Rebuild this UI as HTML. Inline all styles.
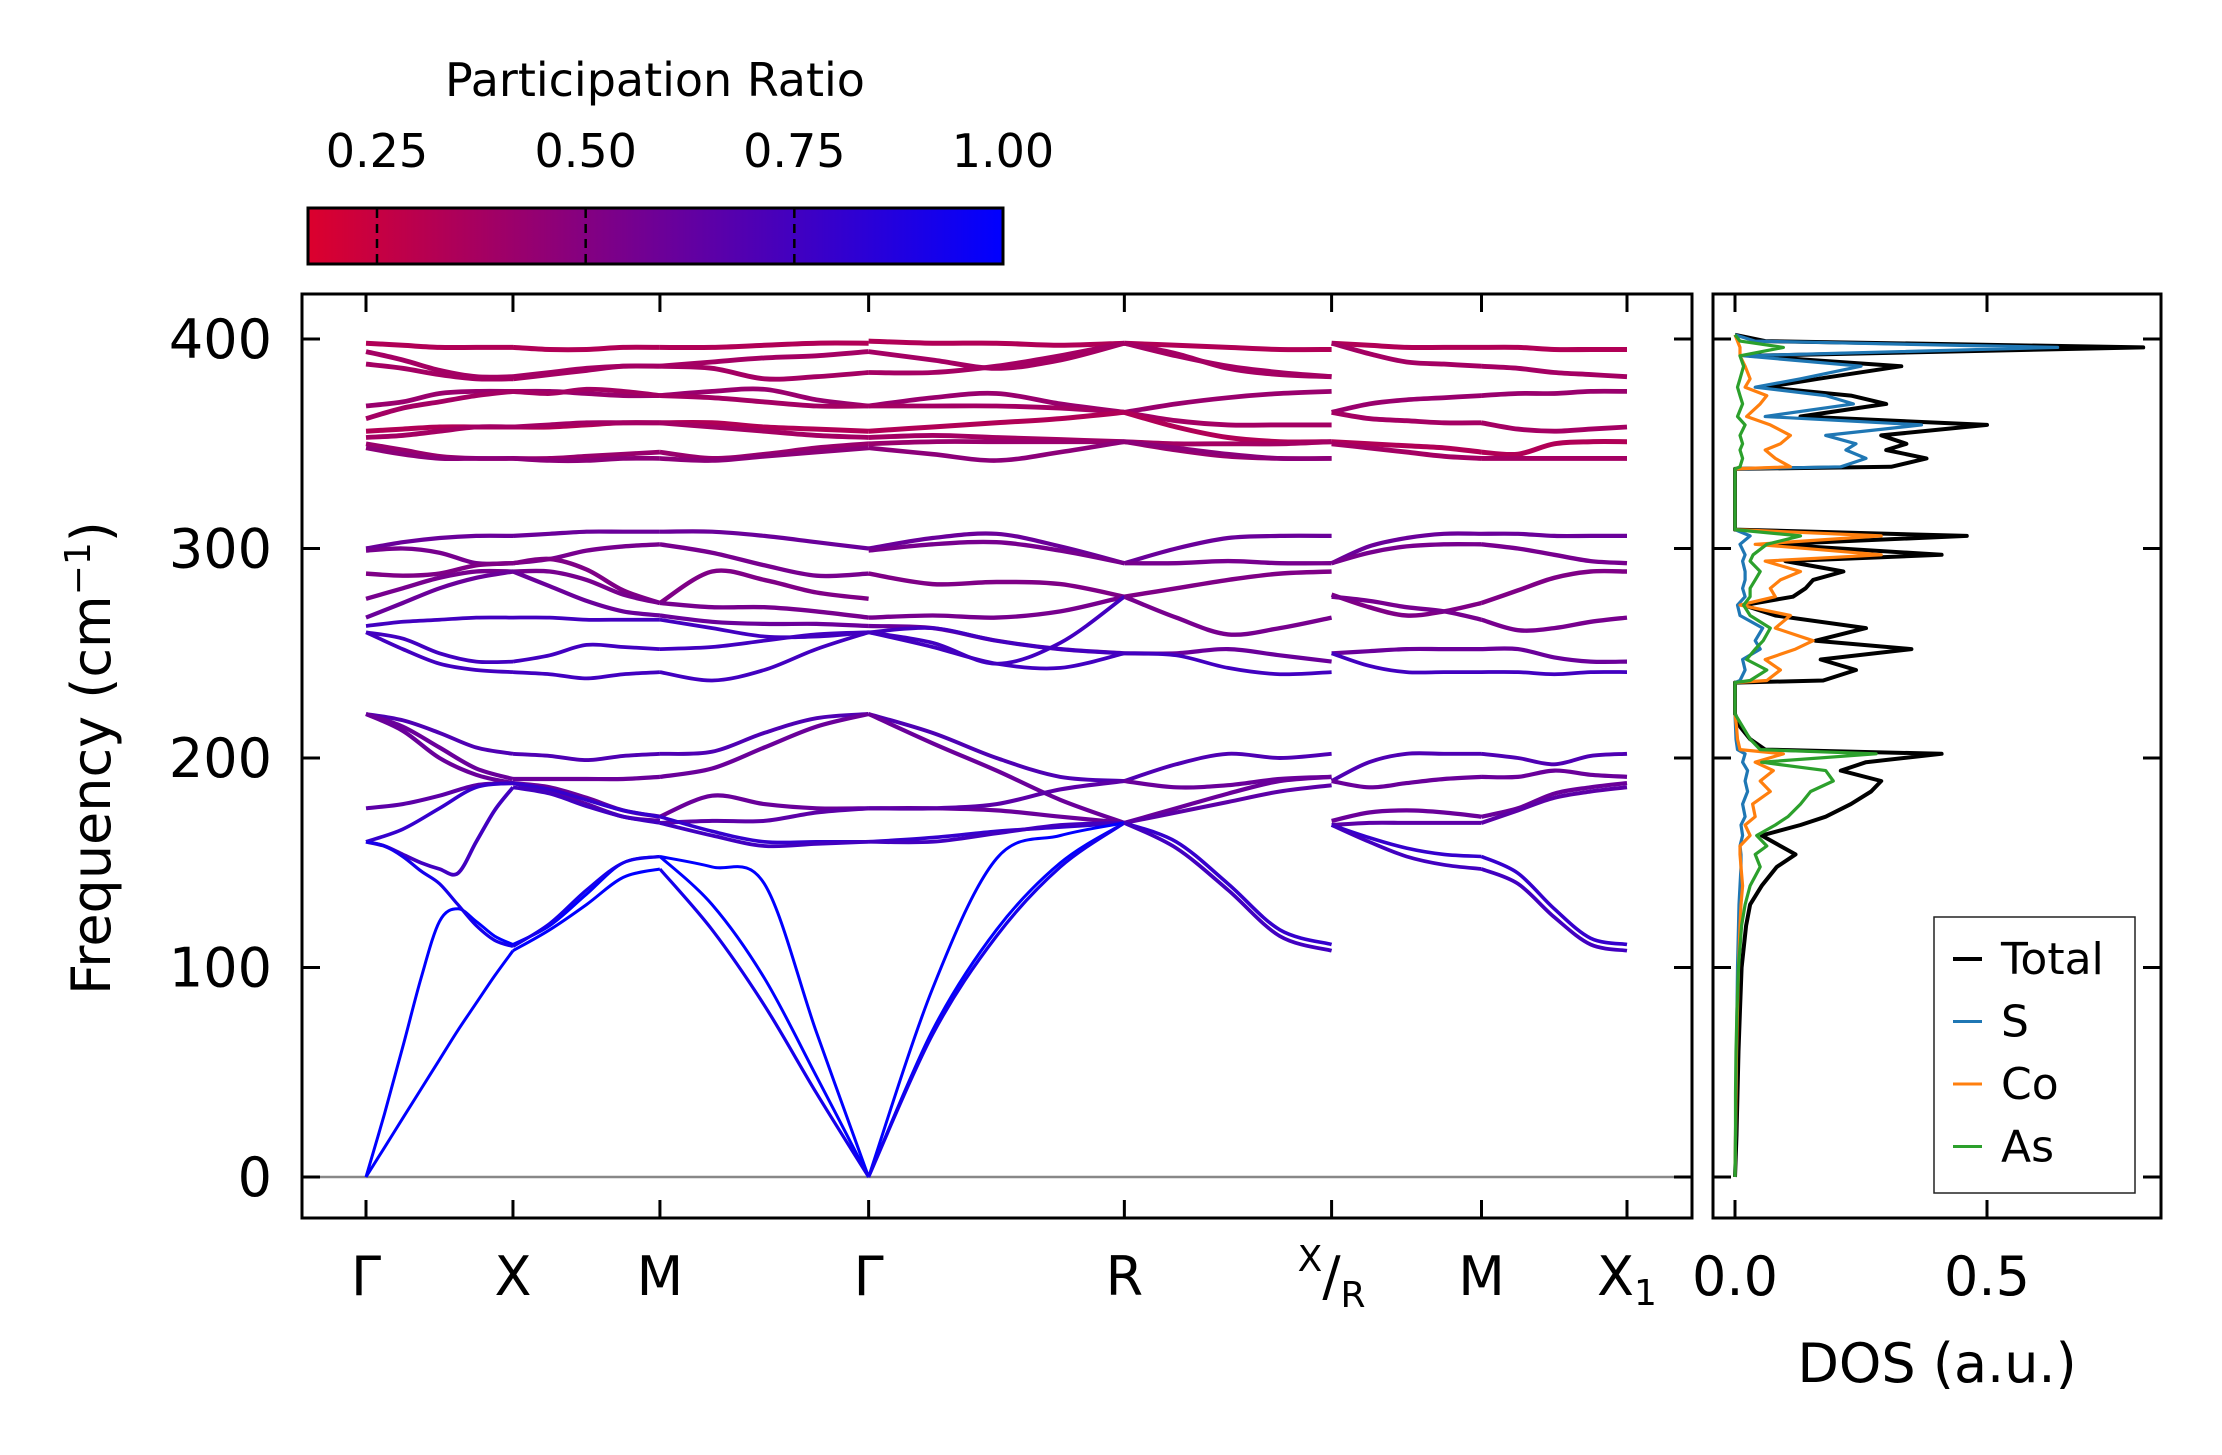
<!DOCTYPE html>
<html><head><meta charset="utf-8"><style>
html,body{margin:0;padding:0;background:#fff;}
svg{display:block;font-family:"DejaVu Sans","Liberation Sans",sans-serif;}
</style></head><body>
<svg id="fig" width="2222" height="1455" viewBox="0 0 2222 1455" xmlns="http://www.w3.org/2000/svg">
<defs>
<linearGradient id="cbgrad" x1="0" x2="1" y1="0" y2="0">
<stop offset="0" stop-color="rgb(220,0,45)"/><stop offset="1" stop-color="rgb(0,0,255)"/>
</linearGradient>
<clipPath id="mainclip"><rect x="302" y="294" width="1390" height="924"/></clipPath>
<clipPath id="dosclip"><rect x="1713" y="294" width="448" height="924"/></clipPath>
</defs>
<g id="colorbar">
<text x="655" y="96" font-size="46" text-anchor="middle">Participation Ratio</text>
<rect x="308" y="208" width="695" height="56" fill="url(#cbgrad)" stroke="#000" stroke-width="3"/>
</g>
<g id="bands" clip-path="url(#mainclip)"></g>
<g id="main-axes"></g>
<g id="dos" clip-path="url(#dosclip)"></g>
<g id="dos-axes"></g>
<text transform="translate(110,758) rotate(-90)" font-size="54" text-anchor="middle">Frequency (cm<tspan dy="-20" font-size="36">−1</tspan><tspan dy="20">)</tspan></text>
<text x="1937" y="1382" font-size="54" text-anchor="middle">DOS (a.u.)</text>
<g id="legend">
<rect x="1934" y="917" width="201" height="276" fill="#fff" stroke="#222" stroke-width="1.5"/>
</g>
</svg>
<script>
const NS="http://www.w3.org/2000/svg";
// ---- band data ----
const kLabels=["Γ","X","M","Γ","R","X/R","M","X1"];
const kDist=[0,1,2,3.42,5.16,6.57,7.59,8.58];
const yTicks=[0,100,200,300,400];
const cbTicks=[0.25,0.5,0.75,1.0];
const bandPR=[0.33,0.38,0.38,0.42,0.38,0.33,0.38,0.42,0.47,0.6,0.55,0.52,0.55,0.6,0.75,0.75,0.75,0.7,0.6,0.6,0.65,0.8,0.75,1,1,0.92];
const seg1=[[398,397,396,396,396],[394,390,385,382,382],[388,386,383,381,381],[368,370,374,375,375],[362,367,370,373,375],[356,357,358,358,358],[353,354,356,358,358],[350,347,344,343,343],[348,345,343,343,343],[300,303,305,306,306],[299,300,298,293,293],[288,287,288,292,293],[276,281,286,289,289],[267,274,281,286,289],[263,265,266,267,267],[260,257,250,246,246],[260,252,245,242,241],[221,218,212,205,202],[221,215,205,195,190],[221,213,200,192,188],[176,178,182,187,188],[160,166,176,186,188],[160,158,154,150,147,145,160,175,186],[0,30,62,95,122,128,122,115,111],[0,14,28,42,56,70,83,96,108],[160,158,153,146,140,130,120,113,110]];
const seg2=[[396,395,395,396,396],[382,384,386,387,387],[381,383,385,387,387],[375,375,374,373,373],[375,374,376,375,373],[358,358,359,360,360],[358,359,360,360,360],[343,343,344,345,346],[343,342,342,343,343],[306,307,308,308,308],[293,295,299,301,302],[293,295,290,280,274],[289,289,285,278,274],[289,282,275,270,268],[267,267,266,266,266],[246,249,254,253,252],[241,240,238,240,241],[202,201,199,201,202],[190,190,190,190,191],[188,186,181,175,172],[188,184,178,172,170],[188,185,180,175,172],[186,183,177,172,169],[111,120,135,150,153],[108,118,130,143,147],[110,121,137,150,153]];
const seg3=[[396,396,397,398,398],[387,386,381,382,384],[387,389,391,392,394],[373,375,376,371,368],[373,372,370,368,368],[360,360,358,357,356],[360,358,356,354,353],[346,343,345,348,350],[343,342,344,346,348],[308,308,306,303,300],[302,298,292,287,288],[274,289,285,279,276],[274,272,272,270,267],[268,265,264,264,263],[266,262,258,258,260],[252,253,256,259,260],[241,237,242,252,260],[202,203,212,219,221],[191,195,205,215,221],[172,182,178,176,176],[169,170,170,174,176],[172,165,160,160,160],[169,163,158,159,160],[153,148,140,69,0],[153,130,95,48,0],[147,118,82,40,0]];
const seg4=[[399,398,398,397,398],[384,384,387,392,398],[394,390,386,390,398],[368,372,374,369,365],[368,368,368,367,365],[356,358,360,362,365],[353,354,353,352,351],[350,351,351,351,351],[348,345,342,346,351],[300,305,307,301,293],[299,302,303,299,293],[288,283,284,283,277],[267,268,267,270,277],[263,262,256,252,250],[260,262,256,252,250],[260,255,245,255,277],[260,253,245,243,250],[221,212,200,191,189],[221,207,194,180,169],[176,176,175,172,169],[176,176,178,185,189],[160,162,165,167,169],[160,160,164,168,169],[0,90,152,163,169],[0,70,118,150,169],[0,68,115,148,169]];
const seg5=[[398,397,396,395,395],[398,393,386,383,382],[398,392,387,384,382],[365,369,372,374,375],[365,361,359,359,359],[365,358,353,351,351],[351,350,350,350,351],[351,347,344,343,343],[351,348,345,343,343],[293,300,305,306,306],[293,293,294,293,293],[277,281,285,288,289],[277,267,259,262,267],[250,250,252,249,246],[250,249,243,240,241],null,null,[189,197,202,200,202],[189,186,187,190,191],[169,176,183,189,191],[169,174,179,184,187],[169,160,140,118,111],[169,157,137,115,108],null,null,null];
const seg6=[[398,397,396,396,396],[398,393,389,388,387],null,[365,369,371,372,373],[365,362,361,360,360],[351,350,349,348,346],[350,348,346,344,343],null,null,[293,301,305,307,307],[293,298,301,302,302],[278,272,268,270,274],[277,275,272,270,266],[250,251,252,252,252],[250,244,241,241,241],null,null,[189,198,202,202,202],[189,186,188,190,191],[170,174,175,174,172],[168,169,169,169,169],[168,162,157,154,153],[168,160,153,149,147],null,null,null];
const seg7=[[396,396,395,395,395],[387,386,384,383,382],null,[373,374,374,375,375],[360,357,356,357,358],[346,345,350,351,351],[343,343,343,343,343],null,null,[307,307,306,306,306],[302,300,297,294,293],[274,280,286,289,289],[266,261,262,265,267],[252,252,248,246,246],[241,241,240,241,241],null,null,[202,200,197,201,202],[191,191,194,192,191],[172,176,183,186,188],[169,175,181,184,186],[153,145,128,114,111],[147,140,124,111,108],null,null,null];
const segments=[seg1,seg2,seg3,seg4,seg5,seg6,seg7];
// ---- DOS data ----
const dosFreq=[0,20,40,60,80,100,120,130,139,148,154,158,163,168,172,178,184,189,194,198,202,204,209,215,221,230,236,237,242,247,252,256,262,268,273,277,281,285,289,294,297,302,306,309,320,338,339,343,347,350,354,359,363,369,373,377,381,387,392,396,399,402];
const dosTotal=[0,0.003,0.005,0.007,0.01,0.013,0.022,0.03,0.053,0.083,0.12,0.09,0.053,0.13,0.18,0.23,0.27,0.29,0.21,0.26,0.41,0.06,0.03,0.01,0,0,0,0.175,0.24,0.17,0.35,0.16,0.26,0.08,0.017,0.115,0.14,0.155,0.215,0.10,0.41,0.076,0.46,0,0,0,0.31,0.38,0.30,0.34,0.29,0.5,0.13,0.30,0.23,0.06,0.165,0.33,0.03,0.81,0.06,0];
const dosS=[0,0.001,0.002,0.003,0.004,0.005,0.007,0.008,0.01,0.012,0.012,0.01,0.015,0.012,0.02,0.015,0.025,0.02,0.025,0.015,0.02,0.005,0.002,0.001,0,0,0,0.01,0.02,0.015,0.05,0.04,0.055,0.01,0.005,0.02,0.015,0.02,0.02,0.015,0.02,0.01,0.03,0,0,0,0.21,0.26,0.22,0.24,0.18,0.37,0.06,0.235,0.18,0.04,0.13,0.25,0.017,0.64,0.04,0];
const dosCo=[0,0.001,0.002,0.003,0.005,0.007,0.01,0.012,0.015,0.012,0.01,0.01,0.03,0.02,0.04,0.035,0.07,0.05,0.076,0.04,0.096,0.01,0.005,0.003,0,0,0,0.063,0.09,0.06,0.12,0.155,0.08,0.11,0.01,0.08,0.07,0.09,0.13,0.06,0.29,0.04,0.29,0,0,0,0.11,0.08,0.06,0.09,0.11,0.07,0.023,0.05,0.063,0.02,0.03,0.02,0.01,0.01,0.005,0];
const dosAs=[0,0.001,0.001,0.002,0.004,0.007,0.013,0.02,0.03,0.05,0.04,0.063,0.043,0.08,0.105,0.13,0.15,0.195,0.18,0.053,0.28,0.05,0.03,0.015,0,0,0,0.03,0.063,0.023,0.04,0.056,0.07,0.03,0.017,0.03,0.03,0.04,0.05,0.03,0.036,0.063,0.13,0,0,0,0.01,0.015,0.01,0.015,0.01,0.02,0.005,0.015,0.01,0.005,0.01,0.017,0.01,0.096,0.01,0];
const dosTicks=[0,0.5];
const legendNames=["Total","S","Co","As"];
const legendColors=["#000000","#1f77b4","#ff7f0e","#2ca02c"];

// ---- scales ----
const AX={l:302,r:1692,t:294,b:1218};
const DX={l:1713,r:2161};
const fy=f=>1177-(1177-339)*f/400;
const kx=d=>366+(1627-366)*d/kDist[kDist.length-1];
const dx=v=>1735+(1987-1735)*v/0.5;
const cbx=p=>377+(1003-377)*(p-0.25)/0.75;
function prColor(p){const t=Math.max(0,Math.min(1,(p-0.167)/(1-0.167)));return `rgb(${Math.round(220*(1-t))},0,${Math.round(45+210*t)})`;}
function mk(tag,attrs,parent){const e=document.createElementNS(NS,tag);for(const k in attrs)e.setAttribute(k,attrs[k]);parent.appendChild(e);return e;}
function smooth(pts){let d=`M${pts[0][0].toFixed(1)},${pts[0][1].toFixed(1)}`;for(let i=0;i<pts.length-1;i++){const p0=pts[Math.max(0,i-1)],p1=pts[i],p2=pts[i+1],p3=pts[Math.min(pts.length-1,i+2)];const c1=[p1[0]+(p2[0]-p0[0])/6,p1[1]+(p2[1]-p0[1])/6],c2=[p2[0]-(p3[0]-p1[0])/6,p2[1]-(p3[1]-p1[1])/6];d+=`C${c1[0].toFixed(1)},${c1[1].toFixed(1)} ${c2[0].toFixed(1)},${c2[1].toFixed(1)} ${p2[0].toFixed(1)},${p2[1].toFixed(1)}`;}return d;}

// ---- bands ----
const gB=document.getElementById('bands');
const zl=mk('line',{x1:AX.l,x2:AX.r,y1:fy(0),y2:fy(0),stroke:'#888',"stroke-width":2.5},gB);


segments.forEach((seg,s)=>{
  const x0=kx(kDist[s]),x1=kx(kDist[s+1]);
  seg.forEach((vals,b)=>{
    if(!vals)return;
    const pts=vals.map((v,j)=>[x0+(x1-x0)*j/(vals.length-1),fy(v)]);
    const pr=bandPR[b];
    const p=mk('path',{d:smooth(pts),fill:'none',stroke:prColor(pr),"stroke-width":(3.0+(1-pr)*3.0).toFixed(2),"stroke-linecap":"butt"},gB);
    
    
  });
});

// ---- main axes ----
const gA=document.getElementById('main-axes');
const fr=mk('rect',{x:AX.l,y:AX.t,width:AX.r-AX.l,height:AX.b-AX.t,fill:'none',stroke:'#000',"stroke-width":3},gA);


yTicks.forEach(v=>{
  const y=fy(v);
  mk('line',{x1:AX.l,x2:AX.l+18,y1:y,y2:y,stroke:'#000',"stroke-width":3},gA);
  mk('line',{x1:AX.r,x2:AX.r-18,y1:y,y2:y,stroke:'#000',"stroke-width":3},gA);
  const t=mk('text',{x:272,y:y+19,"font-size":54,"text-anchor":"end"},gA);
  t.textContent=v;
  
  
});
kLabels.forEach((lab,i)=>{
  const x=kx(kDist[i]);
  mk('line',{x1:x,x2:x,y1:AX.t,y2:AX.t+18,stroke:'#000',"stroke-width":3},gA);
  mk('line',{x1:x,x2:x,y1:AX.b,y2:AX.b-18,stroke:'#000',"stroke-width":3},gA);
  const t=mk('text',{x:x,y:1295,"font-size":54,"text-anchor":"middle"},gA);
  
  
  if(lab==="X/R"){
    t.innerHTML='<tspan font-size="36" dy="-24">X</tspan><tspan dy="24">/</tspan><tspan font-size="36" dy="12">R</tspan>';
  }else if(lab==="X1"){
    t.innerHTML='X<tspan font-size="36" dy="10">1</tspan>';
  }else t.textContent=lab;
});

// ---- colorbar ticks ----
const gC=document.getElementById('colorbar');
cbTicks.forEach(v=>{
  const x=cbx(v);
  if(v<1){const l=mk('line',{x1:x,x2:x,y1:209,y2:263,stroke:'#000',"stroke-width":2.5,"stroke-dasharray":"9,6"},gC);
  
  }
  const t=mk('text',{x:x,y:167,"font-size":46,"text-anchor":"middle"},gC);
  t.textContent=v.toFixed(2);
  
  
});

// ---- DOS ----
const gD=document.getElementById('dos');
const series=[dosTotal,dosS,dosCo,dosAs];
series.forEach((arr,si)=>{
  const pts=arr.map((v,i)=>`${dx(v).toFixed(1)},${fy(dosFreq[i]).toFixed(1)}`).join(' ');
  const pl=mk('polyline',{points:pts,fill:'none',stroke:legendColors[si],"stroke-width":si===0?4:3.2,"stroke-linejoin":"round"},gD);
  
  
});
const gDA=document.getElementById('dos-axes');
const dfr=mk('rect',{x:DX.l,y:AX.t,width:DX.r-DX.l,height:AX.b-AX.t,fill:'none',stroke:'#000',"stroke-width":3},gDA);


yTicks.forEach(v=>{const y=fy(v);
  mk('line',{x1:DX.l,x2:DX.l+18,y1:y,y2:y,stroke:'#000',"stroke-width":3},gDA);
  mk('line',{x1:DX.r,x2:DX.r-18,y1:y,y2:y,stroke:'#000',"stroke-width":3},gDA);});
dosTicks.forEach(v=>{const x=dx(v);
  mk('line',{x1:x,x2:x,y1:AX.t,y2:AX.t+18,stroke:'#000',"stroke-width":3},gDA);
  mk('line',{x1:x,x2:x,y1:AX.b,y2:AX.b-18,stroke:'#000',"stroke-width":3},gDA);
  const t=mk('text',{x:x,y:1295,"font-size":54,"text-anchor":"middle"},gDA);
  t.textContent=v.toFixed(1);
  
  });

// ---- legend ----
const gL=document.getElementById('legend');
legendNames.forEach((n,i)=>{
  const y=959+i*62.5;
  const l=mk('line',{x1:1953,x2:1982,y1:y,y2:y,stroke:legendColors[i],"stroke-width":i===0?4:3},gL);
  
  
  const t=mk('text',{x:2001,y:y+15,"font-size":44},gL);
  t.textContent=n;
  
  
});
</script>
</body></html>
